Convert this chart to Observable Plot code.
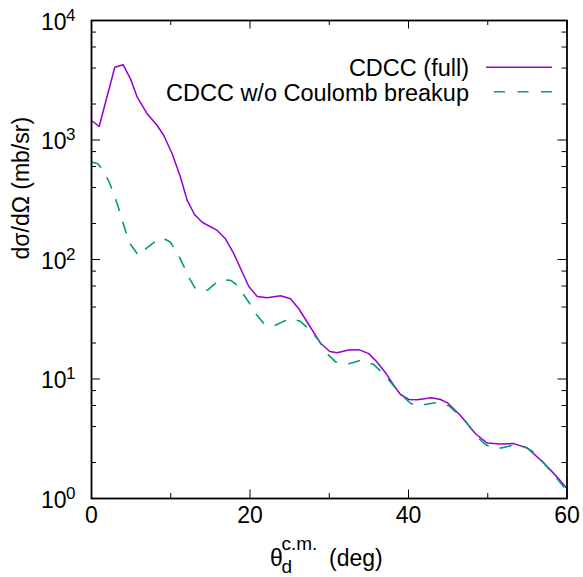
<!DOCTYPE html>
<html>
<head>
<meta charset="utf-8">
<script src="https://cdn.jsdelivr.net/npm/d3@7"></script>
<script src="https://cdn.jsdelivr.net/npm/@observablehq/plot@0.6"></script>
<style>
  html, body { margin: 0; padding: 0; background: #fff; overflow: hidden; }
  svg { display: block; }
</style>
</head>
<body>
<div id="chart"></div>
<script>
// ---- Data ----
const angleFull = [0, 0.97, 2.94, 4.0, 4.92, 5.77, 7.03, 8.29, 9.12, 10.18, 11.23, 12.08, 13.0, 13.97, 15.86, 16.9, 17.96, 19.02, 19.85, 20.91, 22.17, 23.85, 25.11, 26.16, 27.63, 28.89, 30.07, 31.0, 32.43, 33.73, 34.99, 36.05, 37.1, 38.15, 38.99, 40.04, 41.1, 42.9, 44.04, 44.92, 46.56, 48.45, 49.93, 51.61, 53.29, 54.98, 57.07, 58.76, 60];
const sigmaFull = [1456, 1297, 4066, 4260, 3252, 2281, 1657, 1322, 1091, 767, 488, 312, 238, 205, 175, 149, 112, 78.3, 59.4, 49.0, 47.8, 49.7, 46.9, 38.7, 27.1, 20.0, 17.0, 16.6, 17.5, 17.6, 16.3, 13.8, 11.3, 8.82, 7.42, 6.74, 6.71, 6.98, 6.74, 6.32, 4.95, 3.48, 2.91, 2.86, 2.88, 2.65, 1.98, 1.51, 1.21];

const angleNoCb = [0, 0.79, 1.22, 2.15, 2.78, 3.32, 3.82, 4.33, 4.88, 5.93, 7.1, 8.45, 8.96, 9.93, 10.89, 11.61, 12.28, 13.12, 13.88, 14.68, 15.94, 16.78, 17.63, 18.17, 18.8, 19.85, 20.57, 21.74, 23.22, 24.3, 25.2, 26.28, 27.63, 28.68, 29.74, 30.79, 32.47, 33.94, 35.62, 36.88, 38.99, 40.25, 41.1, 41.93, 43.62, 45.08, 46.98, 48.71, 49.72, 50.47, 51.48, 53.12, 54.76, 56.02, 57.5, 58.97, 60];
const sigmaNoCb = [655, 632, 585, 458, 359, 283, 219, 171, 135, 108, 127, 149, 152, 140, 112, 89, 71, 56.9, 55.0, 55.7, 65.8, 67.4, 66.7, 62.6, 55.7, 43.9, 36.2, 29.0, 28.2, 30.5, 31.8, 30.6, 25.5, 21.0, 16.3, 13.9, 13.4, 14.3, 13.2, 11.0, 7.52, 6.27, 6.0, 6.1, 6.36, 5.97, 4.64, 3.24, 2.83, 2.67, 2.63, 2.78, 2.69, 2.39, 1.83, 1.41, 1.16];

const seriesLabels = ["CDCC (full)", "CDCC w/o Coulomb breakup"];
const seriesColors = ["#9400d3", "#009e73"];

const xMajorTicks = [0, 20, 40, 60];
const xMinorTicks = [10, 30, 50];
const yMajorTicks = [1, 10, 100, 1000, 10000];
const yMinorTicks = [2, 4, 6, 8, 20, 40, 60, 80, 200, 400, 600, 800, 2000, 4000, 6000, 8000];
const yTickBase = "10";
const yLabel = "dσ/dΩ (mb/sr)";
const xLabelMain = "θ";
const xLabelSub = "d";
const xLabelSup = "c.m.";
const xLabelUnit = "(deg)";

// ---- Layout ----
const W = 583, H = 577;
const mL = 91, mR = 16.5, mT = 20, mB = 79;
const fw = W - mL - mR, fh = H - mT - mB;
const FONT = "'Liberation Sans', Arial, Helvetica, sans-serif";

const full = angleFull.map((a, i) => ({a, s: sigmaFull[i]}));
const noCb = angleNoCb.map((a, i) => ({a, s: sigmaNoCb[i]}));

const plot = Plot.plot({
  width: W, height: H,
  marginLeft: mL, marginRight: mR, marginTop: mT, marginBottom: mB,
  style: {fontFamily: FONT, background: "#fff", color: "#000", overflow: "visible"},
  x: {domain: [0, 60], axis: null},
  y: {type: "log", domain: [1, 1e4], axis: null},
  marks: [
    Plot.line(full, {x: "a", y: "s", stroke: seriesColors[0], strokeWidth: 1.5}),
    Plot.line(noCb, {x: "a", y: "s", stroke: seriesColors[1], strokeWidth: 1.6, strokeDasharray: "11,12.5"}),
    // inward ticks on all four sides
    Plot.tickY(yMajorTicks, {y: d => d, insetRight: fw - 9, stroke: "#000"}),
    Plot.tickY(yMajorTicks, {y: d => d, insetLeft: fw - 9, stroke: "#000"}),
    Plot.tickY(yMinorTicks, {y: d => d, insetRight: fw - 5, stroke: "#000"}),
    Plot.tickY(yMinorTicks, {y: d => d, insetLeft: fw - 5, stroke: "#000"}),
    Plot.tickX(xMajorTicks, {x: d => d, insetTop: fh - 8.5, stroke: "#000"}),
    Plot.tickX(xMajorTicks, {x: d => d, insetBottom: fh - 8.5, stroke: "#000"}),
    Plot.tickX(xMinorTicks, {x: d => d, insetTop: fh - 5, stroke: "#000"}),
    Plot.tickX(xMinorTicks, {x: d => d, insetBottom: fh - 5, stroke: "#000"}),
    Plot.frame({stroke: "#000", strokeWidth: 1.8}),
    // tick labels
    Plot.text(xMajorTicks, {x: d => d, text: d => String(d), frameAnchor: "bottom", dy: 24, fontSize: 23, fill: "#000"}),
    Plot.text(yMajorTicks, {y: d => d, text: () => yTickBase, frameAnchor: "left", textAnchor: "end", dx: -25, dy: 2, fontSize: 23, fill: "#000"}),
    Plot.text(yMajorTicks, {y: d => d, text: d => String(Math.round(Math.log10(d))), frameAnchor: "left", textAnchor: "start", dx: -25.5, dy: -5, fontSize: 17, fill: "#000"}),
    // y axis label
    Plot.text([yLabel], {text: d => d, frameAnchor: "left", rotate: -90, dx: -69.5, fontSize: 23, fill: "#000"})
  ]
});

document.getElementById("chart").appendChild(plot);

// ---- x-axis label with sub/superscripts ----
const svg = d3.select(plot);
const gx = svg.append("g").attr("font-family", FONT).attr("fill", "#000").attr("text-anchor", "start");
gx.append("text").attr("x", 270).attr("y", 566).attr("font-size", 23).text(xLabelMain);
gx.append("text").attr("x", 281.5).attr("y", 573).attr("font-size", 19).text(xLabelSub);
gx.append("text").attr("x", 281.5).attr("y", 550).attr("font-size", 19).text(xLabelSup);
gx.append("text").attr("x", 329).attr("y", 566).attr("font-size", 23).text(xLabelUnit);

// ---- legend (top right, inside the frame) ----
const gl = svg.append("g").attr("font-family", FONT);
const legendRows = [
  {y: 75.5, ly: 67.3, dash: null},
  {y: 100.5, ly: 91.7, dash: "11,12.5"}
];
legendRows.forEach((r, i) => {
  gl.append("text").attr("x", 469).attr("y", r.y).attr("text-anchor", "end")
    .attr("font-size", 23.5).attr("fill", "#000").text(seriesLabels[i]);
  const ln = gl.append("line").attr("x1", 552).attr("x2", 486).attr("y1", r.ly).attr("y2", r.ly)
    .attr("stroke", seriesColors[i]).attr("stroke-width", i === 0 ? 1.5 : 1.6);
  if (r.dash) ln.attr("stroke-dasharray", r.dash);
});
</script>
</body>
</html>
